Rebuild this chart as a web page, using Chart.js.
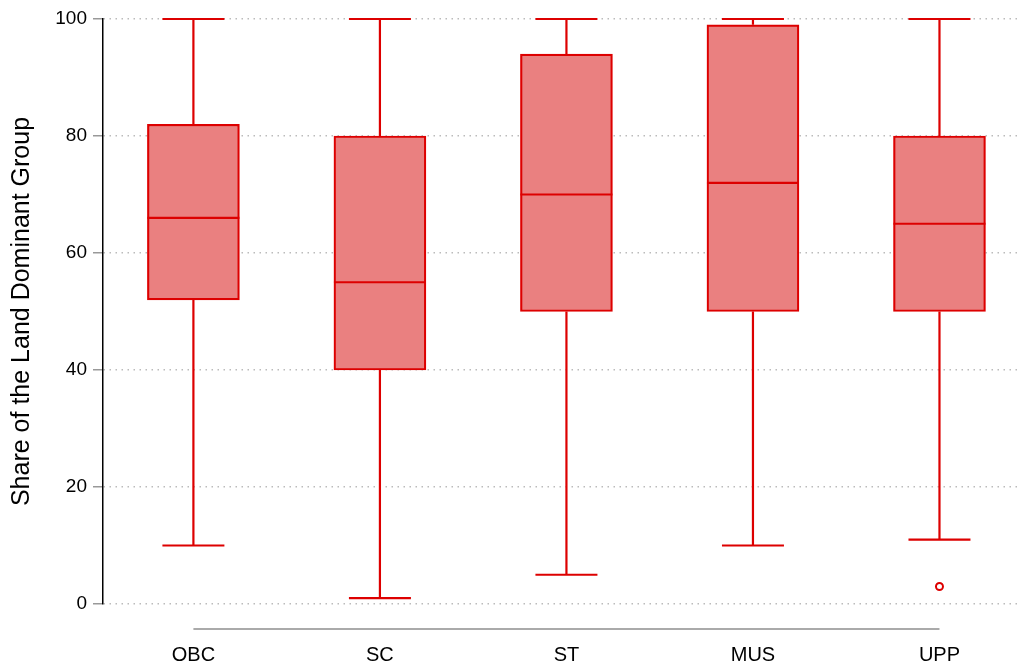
<!DOCTYPE html>
<html>
<head>
<meta charset="utf-8">
<style>
  html, body { margin: 0; padding: 0; background: #fff; }
  canvas { display: block; }
</style>
<script src="https://cdn.jsdelivr.net/npm/chart.js@4/dist/chart.umd.min.js"></script>
</head>
<body>
<canvas id="box-chart" width="1024" height="670"></canvas>
<script>
(function(){
    'use strict';
    // ---- data
    const groups = ['OBC', 'SC', 'ST', 'MUS', 'UPP'];
    const whiskerLow  = [10, 1, 5, 10, 11];
    const q1          = [52, 40, 50, 50, 50];
    const median      = [66, 55, 70, 72, 65];
    const q3          = [82, 80, 94, 99, 80];
    const whiskerHigh = [100, 100, 100, 100, 100];
    const outlierGroup = [4];
    const outlierValue = [3];
    const yTicks = [0, 20, 40, 60, 80, 100];

    const red = '#dd0000';
    const fill = '#ea8080';

    // boxes as floating bars
    const boxes = [];
    for(let i = 0; i < groups.length; i++){
        boxes.push({x: i, y: [q1[i], q3[i]]});
    }
    const outliers = [];
    for(let i = 0; i < outlierGroup.length; i++){
        outliers.push({x: outlierGroup[i], y: outlierValue[i]});
    }

    // whiskers, caps, medians and the grey base line
    const boxExtras = {
        id: 'boxExtras',
        afterDatasetsDraw(chart){
            const ctx = chart.ctx;
            const xs = chart.scales.x;
            const ys = chart.scales.y;
            const half = 46;
            const cap = 31;
            ctx.save();
            ctx.strokeStyle = red;
            ctx.lineWidth = 2.2;
            for(let i = 0; i < groups.length; i++){
                const x = xs.getPixelForValue(i);
                ctx.beginPath();
                ctx.moveTo(x, ys.getPixelForValue(q3[i]));
                ctx.lineTo(x, ys.getPixelForValue(whiskerHigh[i]));
                ctx.moveTo(x, ys.getPixelForValue(q1[i]));
                ctx.lineTo(x, ys.getPixelForValue(whiskerLow[i]));
                ctx.moveTo(x - cap, ys.getPixelForValue(whiskerHigh[i]));
                ctx.lineTo(x + cap, ys.getPixelForValue(whiskerHigh[i]));
                ctx.moveTo(x - cap, ys.getPixelForValue(whiskerLow[i]));
                ctx.lineTo(x + cap, ys.getPixelForValue(whiskerLow[i]));
                ctx.moveTo(x - half, ys.getPixelForValue(median[i]));
                ctx.lineTo(x + half, ys.getPixelForValue(median[i]));
                ctx.stroke();
            }
            // grey line under the plot, first to last group
            const yb = chart.chartArea.bottom + 25;
            ctx.strokeStyle = '#aaaaaa';
            ctx.lineWidth = 2;
            ctx.beginPath();
            ctx.moveTo(xs.getPixelForValue(0), yb);
            ctx.lineTo(xs.getPixelForValue(groups.length - 1), yb);
            ctx.stroke();
            ctx.restore();
        }
    };

    const font = "'Liberation Sans', Arial, sans-serif";

    new Chart('box-chart', {
        type: 'bar',
        data: {
            datasets: [{
                type: 'bar',
                data: boxes,
                backgroundColor: fill,
                borderColor: red,
                borderWidth: 2.2,
                borderSkipped: false,
                barThickness: 92
            }, {
                type: 'scatter',
                data: outliers,
                pointRadius: 3.5,
                pointBorderWidth: 2,
                pointBackgroundColor: '#ffffff',
                pointBorderColor: red
            }]
        },
        options: {
            responsive: false,
            animation: false,
            layout: { padding: { top: 19, left: 3, right: 0, bottom: 0 } },
            plugins: {
                legend: { display: false },
                tooltip: { enabled: false }
            },
            scales: {
                x: {
                    type: 'linear',
                    offset: false,
                    min: -0.4847,
                    max: 4.421,
                    afterBuildTicks: function(s){
                        s.ticks = groups.map(function(g, i){ return {value: i}; });
                    },
                    afterFit: function(s){ s.height = 66; },
                    grid: { display: false, drawTicks: false, offset: false },
                    border: { display: false },
                    ticks: {
                        padding: 39,
                        color: '#000',
                        font: { family: font, size: 20 },
                        callback: function(v){ return groups[v]; }
                    }
                },
                y: {
                    min: 0,
                    max: 100,
                    afterBuildTicks: function(s){
                        s.ticks = yTicks.map(function(v){ return {value: v}; });
                    },
                    afterFit: function(s){ s.width = 100; },
                    grid: {
                        color: '#bbbbbb',
                        lineWidth: 1.5,
                        tickLength: 10,
                        tickColor: '#999999',
                        tickWidth: 1.5,
                        tickBorderDash: []
                    },
                    border: { display: true, color: '#000000', width: 1.5, dash: [1.5, 4.5] },
                    ticks: {
                        padding: 6,
                        color: '#000',
                        font: { family: font, size: 19 }
                    },
                    title: {
                        display: true,
                        text: 'Share of the Land Dominant Group',
                        color: '#000',
                        font: { family: font, size: 25 },
                        padding: { top: 4, bottom: 4 }
                    }
                }
            }
        },
        plugins: [boxExtras]
    });
}());
</script>
</body>
</html>
